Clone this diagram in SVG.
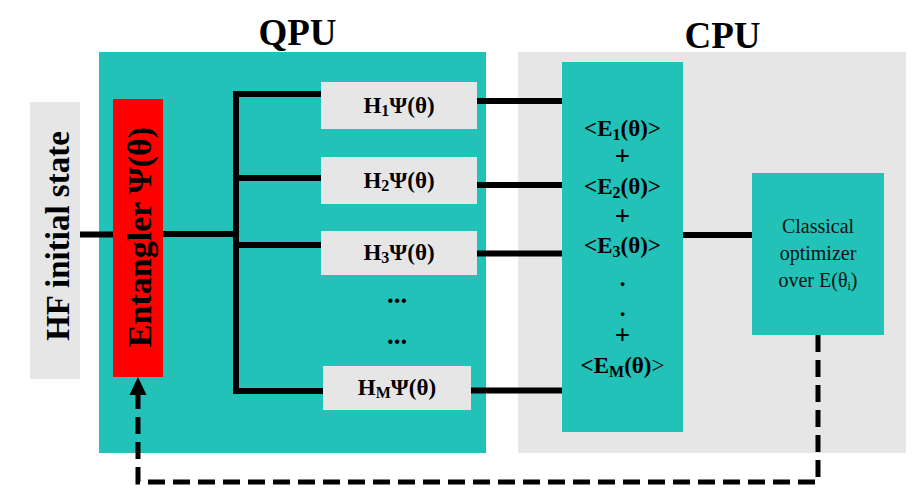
<svg xmlns="http://www.w3.org/2000/svg" width="912" height="489" viewBox="0 0 912 489" font-family="'Liberation Serif', serif">
<defs>
<style>
.teal{fill:#22c2b8}
.gray{fill:#e6e6e6}
.ln{stroke:#000;stroke-width:6;fill:none}
.dash{stroke:#000;stroke-width:5;fill:none;stroke-dasharray:17 8}
.b{font-family:'Liberation Serif',serif;font-weight:bold;fill:#000}
.r{font-family:'Liberation Serif',serif;fill:#111}
</style>
</defs>
<rect width="912" height="489" fill="#fff"/>

<g id="qpu">
<rect class="teal" x="99" y="52" width="387" height="401"/>
<text class="b" x="297.5" y="45" font-size="37" font-weight="bold" text-anchor="middle">QPU</text>
</g>
<g id="cpu">
<rect class="gray" x="518" y="52" width="388" height="401"/>
<text class="b" x="722.5" y="48" font-size="37" font-weight="bold" text-anchor="middle">CPU</text>
</g>

<g id="hf">
<rect class="gray" x="30" y="102" width="50" height="277"/>
<text class="b" transform="translate(69,236) rotate(-90)" font-size="33" font-weight="bold" text-anchor="middle">HF initial state</text>
</g>

<g id="entangler">
<rect x="113" y="99" width="50" height="278" fill="#ff0000"/>
<text class="b" transform="translate(151,237) rotate(-90)" font-size="34" font-weight="bold" text-anchor="middle">Entangler Ψ(θ)</text>
</g>

<g id="h1">
<rect class="gray" x="321" y="82" width="156" height="47"/>
<text class="b" x="399" y="113" font-size="23" font-weight="bold" text-anchor="middle">H<tspan font-size="16" dy="3">1</tspan><tspan dy="-3">Ψ(θ)</tspan></text>
</g>
<g id="h2">
<rect class="gray" x="321" y="157" width="156" height="47"/>
<text class="b" x="399" y="188" font-size="23" font-weight="bold" text-anchor="middle">H<tspan font-size="16" dy="3">2</tspan><tspan dy="-3">Ψ(θ)</tspan></text>
</g>
<g id="h3">
<rect class="gray" x="321" y="231" width="156" height="44"/>
<text class="b" x="399" y="260" font-size="23" font-weight="bold" text-anchor="middle">H<tspan font-size="16" dy="3">3</tspan><tspan dy="-3">Ψ(θ)</tspan></text>
</g>
<g id="dots">
<text class="b" x="397" y="303" font-size="27" font-weight="bold" text-anchor="middle">...</text>
<text class="b" x="397" y="344" font-size="27" font-weight="bold" text-anchor="middle">...</text>
</g>
<g id="hm">
<rect class="gray" x="323" y="366" width="148" height="44"/>
<text class="b" x="397" y="395" font-size="23" font-weight="bold" text-anchor="middle">H<tspan font-size="16" dy="3">M</tspan><tspan dy="-3">Ψ(θ)</tspan></text>
</g>

<g id="energy">
<rect class="teal" x="562" y="62" width="121" height="370"/>
<g class="b" font-size="23" font-weight="bold" text-anchor="middle">
<text x="622.5" y="136">&lt;E<tspan font-size="16" dy="4">1</tspan><tspan dy="-4">(θ)&gt;</tspan></text>
<text x="622.5" y="165" font-size="27">+</text>
<text x="622.5" y="194">&lt;E<tspan font-size="16" dy="4">2</tspan><tspan dy="-4">(θ)&gt;</tspan></text>
<text x="622.5" y="225" font-size="27">+</text>
<text x="622.5" y="253">&lt;E<tspan font-size="16" dy="4">3</tspan><tspan dy="-4">(θ)&gt;</tspan></text>
<text x="622.5" y="286">.</text>
<text x="622.5" y="316">.</text>
<text x="622.5" y="344" font-size="27">+</text>
<text x="622.5" y="373">&lt;E<tspan font-size="16" dy="4">M</tspan><tspan dy="-4">(θ)</tspan><tspan font-weight="normal">&gt;</tspan></text>
</g>
</g>

<g id="optimizer">
<rect class="teal" x="752" y="173" width="132" height="162"/>
<g class="r" font-size="20" text-anchor="middle">
<text x="818" y="233">Classical</text>
<text x="818" y="260">optimizer</text>
<text x="818" y="287">over E(θ<tspan font-size="12" dy="3">i</tspan><tspan dy="-3">)</tspan></text>
</g>
</g>

<g id="connectors">
<line class="ln" x1="80" y1="234.5" x2="113" y2="234.5"/>
<line class="ln" x1="163" y1="234" x2="236" y2="234"/>
<polyline class="ln" points="321,94 236,94 236,391 323,391"/>
<line class="ln" x1="236" y1="178" x2="321" y2="178"/>
<line class="ln" x1="236" y1="245" x2="321" y2="245"/>
<line class="ln" x1="477" y1="101" x2="562" y2="101"/>
<line class="ln" x1="477" y1="185" x2="562" y2="185"/>
<line class="ln" x1="477" y1="253.5" x2="562" y2="253.5"/>
<line class="ln" x1="471" y1="390.5" x2="562" y2="390.5"/>
<line class="ln" x1="683" y1="235" x2="752" y2="235"/>
<polyline class="dash" points="818,335 818,482 138,482 138,394"/>
<path d="M138,377 L146.5,395 L129.5,395 z" fill="#000"/>
</g>
</svg>
